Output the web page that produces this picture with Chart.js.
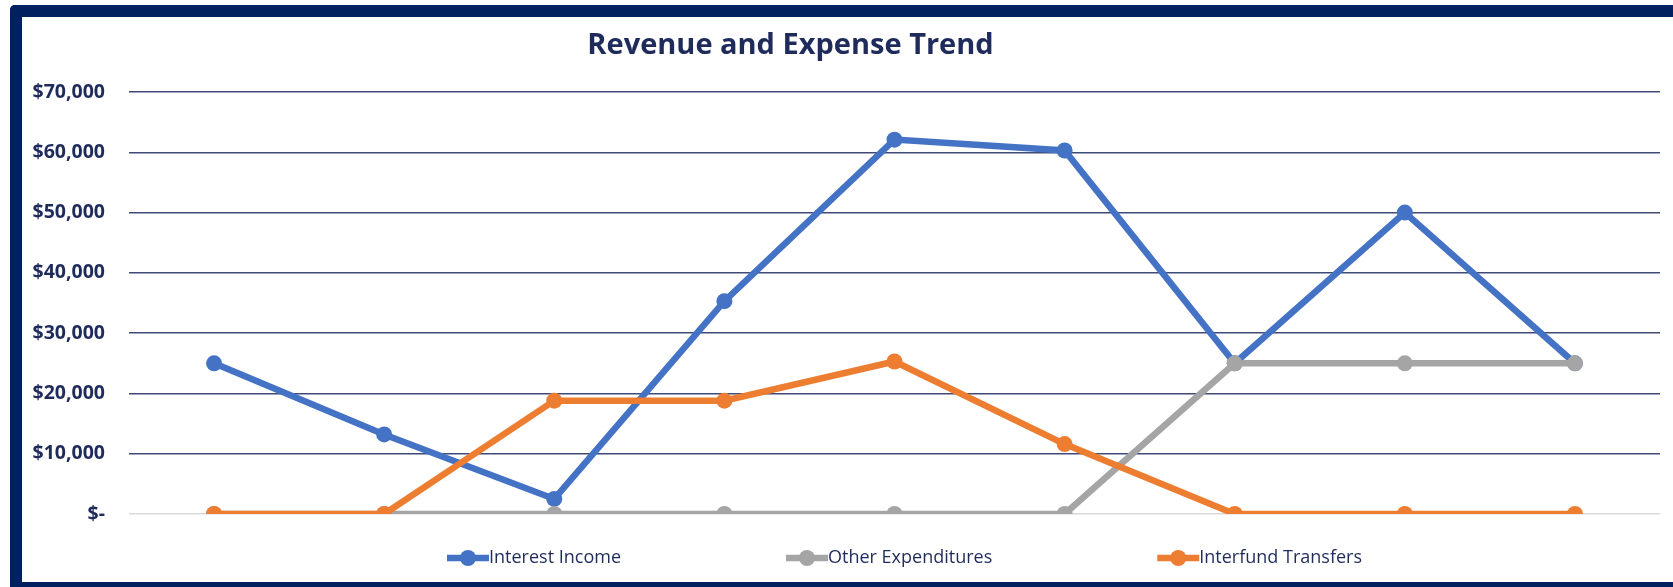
<!DOCTYPE html>
<html>
<head>
<meta charset="utf-8">
<title>Revenue and Expense Trend</title>
<script src="https://cdn.jsdelivr.net/npm/chart.js@4"></script>
<style>
  html, body { margin: 0; padding: 0; width: 1673px; height: 587px; overflow: hidden; background: #ffffff; }
  #frame {
    position: absolute; left: 10px; top: 5px;
    width: 1720px; height: 565px;
    border: 12px solid #002060; border-right: none;
    border-radius: 5px 0 0 5px;
  }
  #wrap { position: absolute; left: 0; top: 0; width: 1673px; height: 587px; }
</style>
</head>
<body>
<div id="frame"></div>
<div id="wrap"><canvas id="trend" width="1673" height="587"></canvas></div>
<script>
// Reporting periods (axis labels are not shown on the chart)
const periods = ['1', '2', '3', '4', '5', '6', '7', '8', '9'];

// Series values in dollars
const interestIncome     = [25000, 13200, 2500, 35300, 62100, 60300, 25000, 50000, 25000];
const otherExpenditures  = [0, 0, 0, 0, 0, 0, 25000, 25000, 25000];
const interfundTransfers = [0, 0, 18800, 18800, 25300, 11600, 0, 0, 0];

// Value axis ticks
const yTickValues = [0, 10000, 20000, 30000, 40000, 50000, 60000, 70000];

const chartTitle = 'Revenue and Expense Trend';
const NAVY_TEXT = '#1F2B5B';

// Heading placed slightly left of the plot centre
const headline = {
  id: 'headline',
  afterDraw(chart, args, opts) {
    const ctx = chart.ctx;
    const ca = chart.chartArea;
    ctx.save();
    ctx.font = opts.font;
    ctx.fillStyle = opts.color;
    ctx.textAlign = 'center';
    ctx.textBaseline = 'middle';
    ctx.fillText(opts.text, (ca.left + ca.right) / 2 + opts.shift, opts.y);
    ctx.restore();
  }
};

// Legend drawn as a line with a round marker, items spread across the bottom
const lineLegend = {
  id: 'lineLegend',
  afterDraw(chart, args, opts) {
    const ctx = chart.ctx;
    ctx.save();
    ctx.font = opts.font;
    const items = chart.data.datasets.map(ds => ({
      ds,
      w: opts.lineLength + ctx.measureText(ds.label).width
    }));
    const total = items.reduce((s, it) => s + it.w, 0) + opts.gap * (items.length - 1);
    let x = (chart.chartArea.left + chart.chartArea.right) / 2 + opts.shift - total / 2;
    const y = opts.y;
    items.forEach(({ ds, w }) => {
      ctx.strokeStyle = ds.borderColor;
      ctx.lineWidth = opts.lineWidth;
      ctx.lineCap = 'butt';
      ctx.beginPath();
      ctx.moveTo(x, y);
      ctx.lineTo(x + opts.lineLength, y);
      ctx.stroke();
      ctx.fillStyle = ds.borderColor;
      ctx.beginPath();
      ctx.arc(x + opts.lineLength / 2, y, opts.radius, 0, Math.PI * 2);
      ctx.fill();
      ctx.fillStyle = opts.color;
      ctx.textBaseline = 'middle';
      ctx.textAlign = 'left';
      ctx.fillText(ds.label, x + opts.lineLength, y);
      x += w + opts.gap;
    });
    ctx.restore();
  }
};

function series(label, data, color, order) {
  return {
    label, data, order,
    borderColor: color,
    backgroundColor: color,
    borderWidth: 6.5,
    pointRadius: 8,
    pointHoverRadius: 8,
    pointBorderWidth: 0,
    pointBackgroundColor: color,
    tension: 0,
    fill: false
  };
}

new Chart(document.getElementById('trend'), {
  type: 'line',
  data: {
    labels: periods,
    datasets: [
      series('Interest Income', interestIncome, '#4472C4', 3),
      series('Other Expenditures', otherExpenditures, '#A5A5A5', 2),
      series('Interfund Transfers', interfundTransfers, '#ED7D31', 1)
    ]
  },
  options: {
    responsive: false,
    animation: false,
    layout: { padding: { left: 29, right: 13, top: 92, bottom: 73 } },
    plugins: {
      legend: { display: false },
      tooltip: { enabled: false },
      title: { display: false },
      headline: {
        text: chartTitle,
        font: "bold 29px 'Open Sans', sans-serif",
        color: NAVY_TEXT,
        shift: -104,
        y: 46
      },
      lineLegend: {
        font: "18px 'Open Sans', sans-serif",
        color: NAVY_TEXT,
        lineLength: 42,
        lineWidth: 6.5,
        radius: 8,
        gap: 165,
        shift: 10,
        y: 558
      }
    },
    scales: {
      x: {
        display: false,
        offset: true
      },
      y: {
        min: 0,
        max: 70000,
        afterBuildTicks: scale => { scale.ticks = yTickValues.map(v => ({ value: v })); },
        afterFit: scale => { scale.width = 100; },
        border: { display: false },
        grid: {
          drawTicks: false,
          lineWidth: 1.5,
          color: c => (c.tick && c.tick.value === 0) ? '#D9D9D9' : '#3F4A78'
        },
        ticks: {
          padding: 24,
          color: NAVY_TEXT,
          font: { family: "'Open Sans', sans-serif", size: 19.5, weight: 'bold' },
          callback: v => v === 0 ? '$-' : '$' + Number(v).toLocaleString('en-US')
        }
      }
    }
  },
  plugins: [headline, lineLegend]
});
</script>
</body>
</html>
